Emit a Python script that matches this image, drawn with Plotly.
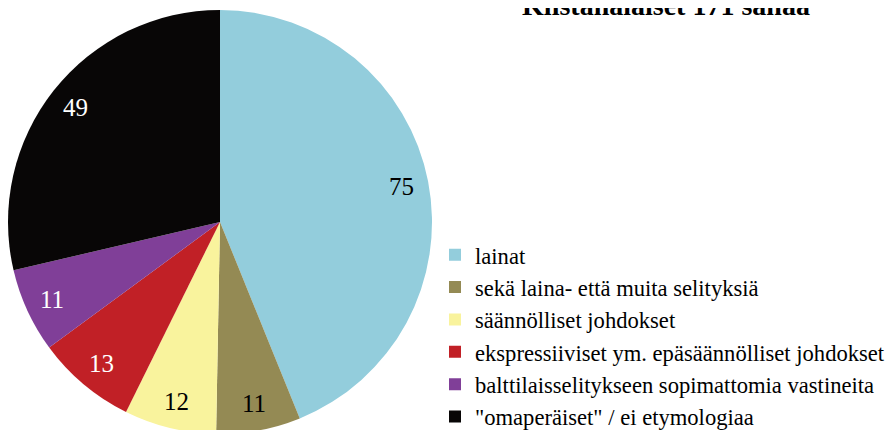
import math
import plotly.graph_objects as go

categories = [
    "lainat",
    "sekä laina- että muita selityksiä",
    "säännölliset johdokset",
    "ekspressiiviset ym. epäsäännölliset johdokset",
    "balttilaisselitykseen sopimattomia vastineita",
    "\"omaperäiset\" / ei etymologiaa",
]
values = [75, 11, 12, 13, 11, 49]
colors = ["#93CDDC", "#948A54", "#F9F39D", "#C12026", "#803F98", "#080606"]
text_colors = ["#000000", "#000000", "#000000", "#FFFFFF", "#FFFFFF", "#FFFFFF"]
title_text = "Kiistanalaiset 171 sanaa"

W, H = 894, 440
T, B = 2, 14
PH = H - T - B          # plot-area height (424)
R = PH / 2              # pie radius in px
CX, CY = R, T + R       # pie centre in px (figure coords)
FONT = "Liberation Serif"

fig = go.Figure(
    go.Pie(
        labels=categories,
        values=values,
        sort=False,
        direction="clockwise",
        rotation=0,
        marker=dict(colors=colors, line=dict(width=0)),
        textinfo="none",
        domain=dict(x=[0, 2 * R / W], y=[0, 1]),
        hoverinfo="label+value",
    )
)

# value labels placed along each slice's bisector, derived from the values
total = sum(values)
cum = 0
for v, tc in zip(values, text_colors):
    mid = (cum + v / 2) / total * 2 * math.pi
    cum += v
    px = CX + 0.87 * R * math.sin(mid)
    py = CY - 0.87 * R * math.cos(mid)
    fig.add_annotation(
        x=px / W,
        y=1 - (py - T) / PH,
        xref="paper",
        yref="paper",
        text=str(v),
        showarrow=False,
        xanchor="center",
        yanchor="middle",
        font=dict(family=FONT, size=25, color=tc),
    )

fig.update_layout(
    width=W,
    height=H,
    margin=dict(l=0, r=0, t=T, b=B),
    paper_bgcolor="white",
    plot_bgcolor="white",
    font=dict(family=FONT, color="#000000"),
    title=dict(
        text="<b>" + title_text + "</b>",
        x=658 / W,
        xanchor="center",
        y=1 - 7 / H,
        yanchor="bottom",
        yref="container",
        font=dict(family=FONT, size=28, color="#000000"),
    ),
    showlegend=True,
    legend=dict(
        x=427 / W,
        xanchor="left",
        y=1 - (225.5 - T) / PH,
        yanchor="top",
        font=dict(family=FONT, size=22.6, color="#000000"),
        bgcolor="rgba(0,0,0,0)",
    ),
)

fig.write_html("out.html")
